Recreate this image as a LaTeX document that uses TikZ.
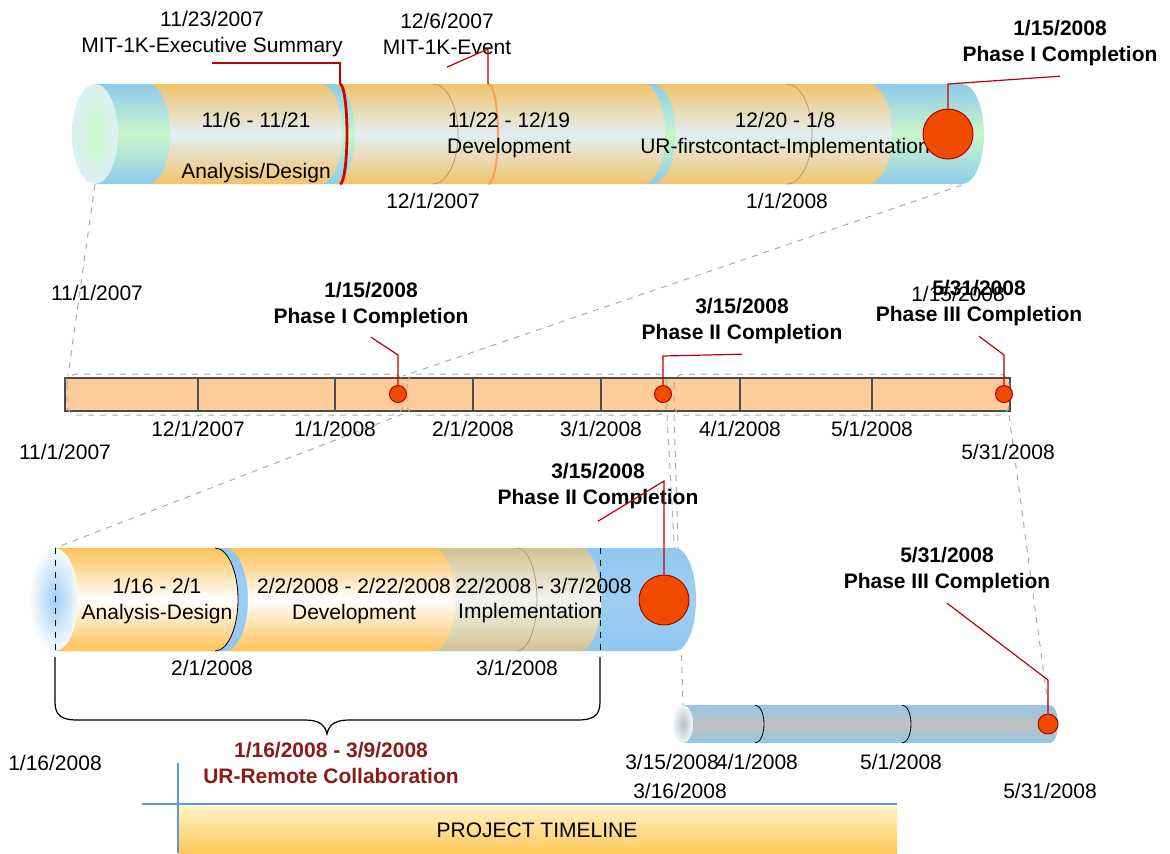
\documentclass[tikz,border=0pt]{standalone}
\usepackage{fontspec}
\setmainfont{Liberation Sans}
\usepackage{tikz}
\usetikzlibrary{positioning, calc}
\definecolor{tubeblue}{HTML}{8FCBEA}
\definecolor{tubegreen}{HTML}{C9F7CB}
\definecolor{tubeface}{HTML}{DDEFF5}
\definecolor{bandorange}{HTML}{F1C36A}
\definecolor{bandpale}{HTML}{E2EFF4}
\definecolor{bandgold}{HTML}{FDC257}
\definecolor{bandtan}{HTML}{DCC284}
\definecolor{skyblue}{HTML}{8EC7F0}
\definecolor{faceblue}{HTML}{9ECFF7}
\definecolor{steelblue}{HTML}{93C6E6}
\definecolor{greymid}{HTML}{C0C0C0}
\definecolor{markred}{HTML}{F24A00}
\definecolor{markedge}{HTML}{B00000}
\definecolor{leadred}{HTML}{C00000}
\definecolor{zoomgrey}{HTML}{ABABAB}
\definecolor{barfill}{HTML}{FFCC99}
\definecolor{barline}{HTML}{4D4D4D}
\definecolor{monthline}{HTML}{B59B74}
\definecolor{eventorange}{HTML}{F7A25A}
\definecolor{collabred}{HTML}{8B1A1A}
\definecolor{lineblue}{HTML}{5B9BD5}
\definecolor{tltop}{HTML}{FFF3C2}
\definecolor{tlbottom}{HTML}{FFC75C}

% one band of a tube: style, left x, right x, top y, bottom y, arc radius
\newcommand{\tubeband}[6]{%
  \path[#1] (#2,#4) -- (#3,#4)
    arc[start angle=-90, end angle=90, x radius=#6, y radius={(#5-#4)/2}]
    -- (#2,#5)
    arc[start angle=90, end angle=-90, x radius=#6, y radius={(#5-#4)/2}]
    -- cycle;}

\begin{document}
\begin{tikzpicture}[x=0.5pt, y=-0.5pt,
    lbl/.style={font=\fontsize{10.5}{13}\selectfont, align=center, inner sep=0pt},
    blbl/.style={lbl, font=\fontsize{10.5}{13}\selectfont\bfseries},
    milestone/.style={circle, draw=markedge, fill=markred, line width=0.5pt,
                      inner sep=0pt, minimum size=#1},
    lead/.style={draw=leadred, line width=0.6pt},
    zoomline/.style={draw=zoomgrey, dashed, line width=0.5pt},
    zoombox/.style={draw=zoomgrey, dashed, line width=0.5pt, rounded corners=5pt},
    monthcut/.style={draw=#1, line width=0.4pt},
    orangeband/.style={shade, top color=bandorange, bottom color=bandorange, middle color=bandpale},
    goldband/.style={shade, top color=bandgold, bottom color=bandgold, middle color=white},
    tanband/.style={shade, top color=bandtan, bottom color=bandtan, middle color=white!90!bandtan, opacity=0.9}
]
\useasboundingbox (0,0) rectangle (1170,853);

% zoom lines between the views
\coordinate (tubeAsw) at (95,184);
\coordinate (tubeAse) at (962,185);
\coordinate (barA) at (68,376);
\coordinate (barB) at (403,376);
\coordinate (barC) at (403,414);
\coordinate (tubeBnw) at (55,548);
\coordinate (barD) at (667,415);
\coordinate (tubeBe) at (680,650);
\coordinate (barE) at (674,415);
\coordinate (tubeCnw) at (683,705);
\coordinate (barF) at (1009,415);
\coordinate (tubeCne) at (1048,705);
\draw[zoomline] (tubeAsw) -- (barA);
\draw[zoomline] (tubeAse) -- (barB);
\draw[zoomline] (barC) -- (tubeBnw);
\draw[zoomline] (barD) -- (tubeBe);
\draw[zoomline] (barE) -- (tubeCnw);
\draw[zoomline] (barF) -- (tubeCne);

% phase I tube
\path[shade, top color=tubeblue, bottom color=tubeblue, middle color=tubegreen]
  (95,84) -- (962,84) arc[start angle=-90, end angle=90, x radius=22, y radius=50] -- (95,184) -- cycle;
\path[shade, inner color=tubegreen, outer color=tubeface] (95,134) ellipse[x radius=23, y radius=50];
\tubeband{orangeband}{148}{320}{84}{184}{22}
\tubeband{orangeband}{333}{643}{84}{184}{22}
\tubeband{orangeband}{652}{868}{84}{184}{24}
\draw[monthcut=monthline] (433,84) arc[start angle=-90, end angle=90, x radius=25, y radius=50];
\draw[monthcut=monthline] (787,84) arc[start angle=-90, end angle=90, x radius=25, y radius=50];
\draw[draw=red!85!black, line width=1.4pt] (340,84) arc[start angle=-90, end angle=90, x radius=7, y radius=50];
\draw[draw=eventorange, line width=1pt] (488,84) arc[start angle=-90, end angle=90, x radius=10, y radius=50];
\coordinate (execcut) at (340,84);
\coordinate (eventcut) at (488,84);

\node[lbl] (segAdate) at (256,120) {11/6 - 11/21};
\node[lbl] (segAname) at (256,173) {Analysis/Design};
\node[lbl] (segB) at (509,135) {11/22 - 12/19\\Development};
\node[lbl] (segC) at (785,135) {12/20 - 1/8\\UR-firstcontact-Implementation};
\node[lbl] (decA) at (433,201) {12/1/2007};
\node[lbl] (janA) at (787,201) {1/1/2008};
\node[lbl] (execlbl) at (212,34) {11/23/2007\\MIT-1K-Executive Summary};
\node[lbl] (eventlbl) at (447,34) {12/6/2007\\MIT-1K-Event};
\node[blbl] (ponelbl) at (1060,43) {1/15/2008\\Phase I Completion};
\node[milestone=25pt] (pone) at (948,134) {};

\coordinate (execk) at (340,63);
\coordinate (eventk) at (488,49);
\coordinate (ponek) at (948,84);
\draw[lead] (execcut) -- (execk) -- (execk -| execlbl.south);
\draw[lead] (eventcut) -- (eventk) -- ([yshift=-6pt]eventlbl.south);
\draw[lead] (pone.north) -- (ponek) -- ([yshift=-5pt]ponelbl.south);

% whole project bar
\draw[fill=barfill, draw=barline, line width=0.7pt] (65,378) rectangle (1010,411);
\foreach \mx in {198,335,473,601,740,872}
  \draw[barline, line width=0.6pt] (\mx,378) -- (\mx,411);
\draw[zoombox] (67,374) rectangle (403,415);
\draw[zoombox] (407,374) rectangle (667,415);
\draw[zoombox] (674,374) rectangle (1009,415);

\node[lbl] (startup) at (97,293) {11/1/2007};
\node[lbl] (startlow) at (65,452) {11/1/2007};
\node[lbl] (endlow) at (1008,452) {5/31/2008};
\node[lbl] (decB) at (198,429) {12/1/2007};
\node[lbl] (janB) at (335,429) {1/1/2008};
\node[lbl] (febB) at (473,429) {2/1/2008};
\node[lbl] (marB) at (601,429) {3/1/2008};
\node[lbl] (aprB) at (740,429) {4/1/2008};
\node[lbl] (mayB) at (872,429) {5/1/2008};
\node[lbl] (stray) at (958,294) {1/15/2008};
\node[blbl] (pmonelbl) at (371,305) {1/15/2008\\Phase I Completion};
\node[blbl] (pmtwolbl) at (742,321) {3/15/2008\\Phase II Completion};
\node[blbl] (pmthreelbl) at (979,303) {5/31/2008\\Phase III Completion};
\node[milestone=8.5pt] (pmone) at (398,394) {};
\node[milestone=8.5pt] (pmtwo) at (663,394) {};
\node[milestone=8.5pt] (pmthree) at (1004,394) {};

\coordinate (pmonek) at (398,355);
\coordinate (pmtwok) at (663,356);
\coordinate (pmthreek) at (1004,355);
\draw[lead] (pmone.north) -- (pmonek) -- ([yshift=-4.5pt]pmonelbl.south);
\draw[lead] (pmtwo.north) -- (pmtwok) -- ([yshift=-5pt]pmtwolbl.south);
\draw[lead] (pmthree.north) -- (pmthreek) -- ([yshift=-5pt]pmthreelbl.south);

% phase II tube
\path[shade, top color=skyblue, bottom color=skyblue, middle color=skyblue!85!white]
  (55,548) -- (675,548) arc[start angle=-90, end angle=90, x radius=21, y radius=51.5] -- (55,651) -- cycle;
\path[shade, inner color=faceblue, outer color=white!92!skyblue] (55,599.5) ellipse[x radius=24, y radius=51.5];
\tubeband{goldband}{55}{215}{548}{651}{23}
\tubeband{goldband}{225}{433}{548}{651}{23}
\tubeband{tanband}{433}{580}{548}{651}{21}
\draw[monthcut=black] (215,548) arc[start angle=-90, end angle=90, x radius=23, y radius=51.5];
\draw[monthcut=monthline] (517,548) arc[start angle=-90, end angle=90, x radius=20, y radius=51.5];
\draw[dashed, line width=0.4pt] (55,548) -- (55,651);
\draw[dashed, line width=0.4pt] (600,548) -- (600,651);

\node[lbl] (segD) at (157,601) {1/16 - 2/1\\Analysis-Design};
\node[lbl] (segE) at (354,601) {2/2/2008 - 2/22/2008\\Development};
\begin{scope}
  \clip (456,570) rectangle (640,602);
  \node[lbl, anchor=east] (segFdate) at (632,586) {2/22/2008 - 3/7/2008};
\end{scope}
\node[lbl] (segFname) at (530,613) {Implementation};
\node[lbl] (febC) at (212,668) {2/1/2008};
\node[lbl] (marC) at (517,668) {3/1/2008};
\node[blbl] (ptwolbl) at (598,486) {3/15/2008\\Phase II Completion};
\node[milestone=25pt] (ptwo) at (664,600) {};
\coordinate (ptwok) at (664,481);
\draw[lead] (ptwo.north) -- (ptwok) -- ([yshift=-6pt]ptwolbl.south);

% brace under phase II
\draw[line width=0.6pt] (55,657) -- (55,702) .. controls (55,716) and (62,720) .. (78,720)
  -- (305,720) .. controls (318,720) and (325,724) .. (327,734)
  .. controls (329,724) and (336,720) .. (349,720)
  -- (577,720) .. controls (593,720) and (600,716) .. (600,702) -- (600,657);
\node[lbl] (collabstart) at (55,763) {1/16/2008};
\node[blbl, text=collabred] (collab) at (331,763) {1/16/2008 - 3/9/2008\\UR-Remote Collaboration};

% phase III tube
\path[shade, top color=steelblue, bottom color=steelblue, middle color=greymid]
  (683,705) -- (1050,705) arc[start angle=-90, end angle=90, x radius=8, y radius=19] -- (683,743) -- cycle;
\path[shade, inner color=greymid, outer color=white!85!steelblue] (683,724) ellipse[x radius=10, y radius=19];
\draw[monthcut=black] (755,705) arc[start angle=-90, end angle=90, x radius=9, y radius=19];
\draw[monthcut=black] (902,705) arc[start angle=-90, end angle=90, x radius=9, y radius=19];
\node[milestone=10pt] (pthree) at (1048,724) {};
\node[blbl] (pthreelbl) at (947,570) {5/31/2008\\Phase III Completion};
\coordinate (pthreek) at (1048,680);
\draw[lead] (pthree.north) -- (pthreek) -- ([yshift=-5pt]pthreelbl.south);

\node[lbl] (marD) at (672,762) {3/15/2008};
\node[lbl] (aprD) at (757,762) {4/1/2008};
\node[lbl] (mayD) at (901,762) {5/1/2008};
\node[lbl] (marE) at (680,791) {3/16/2008};
\node[lbl] (endD) at (1050,791) {5/31/2008};

% title strip
\path[shade, top color=tltop, bottom color=tlbottom] (178,806) rectangle (897,853);
\coordinate (ruleW) at (142,804);
\coordinate (ruleE) at (897,804);
\coordinate (ruleN) at (178,763);
\coordinate (ruleS) at (178,853);
\draw[lineblue, line width=0.6pt] (ruleW) -- (ruleE);
\draw[lineblue, line width=0.6pt] (ruleN) -- (ruleS);
\node[lbl] (title) at (537,830) {PROJECT TIMELINE};

\end{tikzpicture}
\end{document}
